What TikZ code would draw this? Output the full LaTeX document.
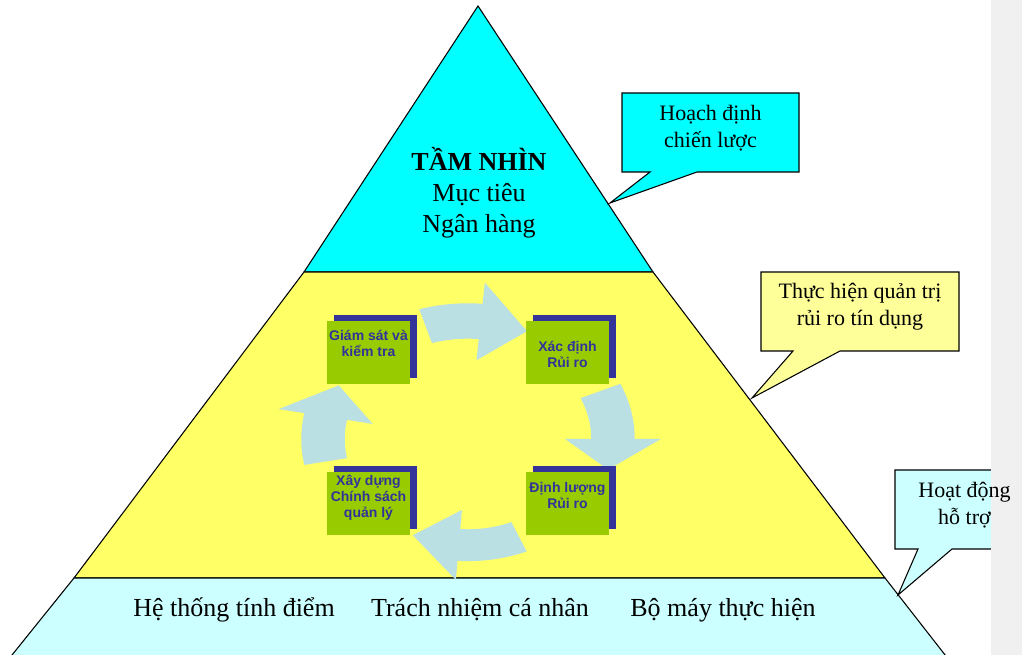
\documentclass[tikz,border=0pt]{standalone}
\usepackage{fontspec}
\setmainfont{Liberation Serif}
\setsansfont{Liberation Sans}
\usetikzlibrary{shadows}

\definecolor{topcyan}{HTML}{00FFFF}
\definecolor{midyellow}{HTML}{FFFF66}
\definecolor{basecyan}{HTML}{CCFFFF}
\definecolor{noteyellow}{HTML}{FFFF99}
\definecolor{cyclecol}{HTML}{BBE0E3}
\definecolor{stepgreen}{HTML}{99CC00}
\definecolor{stepblue}{HTML}{333399}
\definecolor{sidegray}{HTML}{F0F0F0}

\tikzset{
  layer/.style={draw=black, line width=0.8pt},
  note/.style={draw=black, line width=0.8pt},
  bigtext/.style={font=\fontsize{19.5}{23.25}\selectfont, align=center, inner sep=0pt},
  notetext/.style={font=\fontsize{16.5}{20.25}\selectfont, align=center, inner sep=0pt},
  stepbox/.style={fill=stepgreen, minimum width=62.25pt, minimum height=47.25pt, inner sep=0pt,
    copy shadow={shadow xshift=4.9pt, shadow yshift=4.5pt, fill=stepblue, draw=none}},
  steptext/.style={font=\sffamily\bfseries\fontsize{10.5}{12}\selectfont, text=stepblue, align=center, inner sep=0pt},
}

% centre and radii of the ring of arrows
\def\cx{468}
\def\cy{439}
\def\rx{145}
\def\ry{118}

% #1 tail angle, #2 head base angle, #3 tip angle, #4 radial scale
\newcommand{\cycarrow}[4]{%
  \fill[cyclecol]
    plot[domain=#1:#2, samples=25, variable=\t] ({\cx+#4*1.15*\rx*cos(\t)}, {\cy-#4*1.15*\ry*sin(\t)})
    -- ({\cx+#4*1.33*\rx*cos(#2)}, {\cy-#4*1.33*\ry*sin(#2)})
    -- ({\cx+#4*\rx*cos(#3)}, {\cy-#4*\ry*sin(#3)})
    -- ({\cx+#4*0.67*\rx*cos(#2)}, {\cy-#4*0.67*\ry*sin(#2)})
    -- plot[domain=#2:#1, samples=25, variable=\t] ({\cx+#4*0.85*\rx*cos(\t)}, {\cy-#4*0.85*\ry*sin(\t)})
    -- cycle;
}

\begin{document}
\begin{tikzpicture}[x=0.75pt, y=-0.75pt]

\useasboundingbox (0,0) rectangle (1022,655);
\clip (0,0) rectangle (1022,655);
\fill[white] (0,0) rectangle (1022,655);

% pyramid
\filldraw[layer, fill=topcyan] (478,6) -- (653,272) -- (304,272) -- cycle;
\filldraw[layer, fill=midyellow] (304,272) -- (653,272) -- (885,578) -- (74,578) -- cycle;
\filldraw[layer, fill=basecyan] (74,578) -- (885,578) -- (949,660) -- (8,660) -- cycle;

% callouts
\filldraw[note, fill=topcyan] (622,93) -- (799,93) -- (799,172) -- (697,172) -- (610,203) -- (650,172) -- (622,172) -- cycle;
\filldraw[note, fill=noteyellow] (761,272) -- (959,272) -- (959,351) -- (840,351) -- (752,398) -- (793,351) -- (761,351) -- cycle;
\filldraw[note, fill=basecyan] (895,470) -- (1040,470) -- (1040,549) -- (952,549) -- (898,595) -- (918,549) -- (895,549) -- cycle;

\fill[sidegray] (991,0) rectangle (1022,655);

% ring of arrows
\cycarrow{107}{85}{66}{1}
\cycarrow{24}{0}{-15}{1}
\cycarrow{293}{266}{245}{0.9}
\cycarrow{191}{169}{153}{1}

% steps
\node[stepbox] (gs) at (368.5,352.5) {};
\node[stepbox] (xd) at (567.5,352.5) {};
\node[stepbox] (xdcs) at (368.5,503.5) {};
\node[stepbox] (dl) at (567.5,503.5) {};

\node[steptext] (gsT) at (368.5,343.5) {Giám sát và\\kiểm tra};
\node[steptext] (xdT) at (567.5,354) {Xác định\\Rủi ro};
\node[steptext] (xdcsT) at (368.5,498) {Xây dựng\\Chính sách\\quản lý};
\node[steptext] (dlT) at (567.5,495) {Định lượng\\Rủi ro};

% texts
\node[bigtext] (vision) at (479,193) {\textbf{TẦM NHÌN}\\Mục tiêu\\Ngân hàng};

\node[bigtext] (score) at (234,610) {Hệ thống tính điểm};
\node[bigtext] (duty) at (480,610) {Trách nhiệm cá nhân};
\node[bigtext] (staff) at (723,610) {Bộ máy thực hiện};

\node[notetext] (plan) at (710.5,128.5) {Hoạch định\\chiến lược};
\node[notetext] (risk) at (860,306.5) {Thực hiện quản trị\\rủi ro tín dụng};
\node[notetext] (support) at (964.5,505) {Hoạt động\\hỗ trợ};

\end{tikzpicture}
\end{document}
